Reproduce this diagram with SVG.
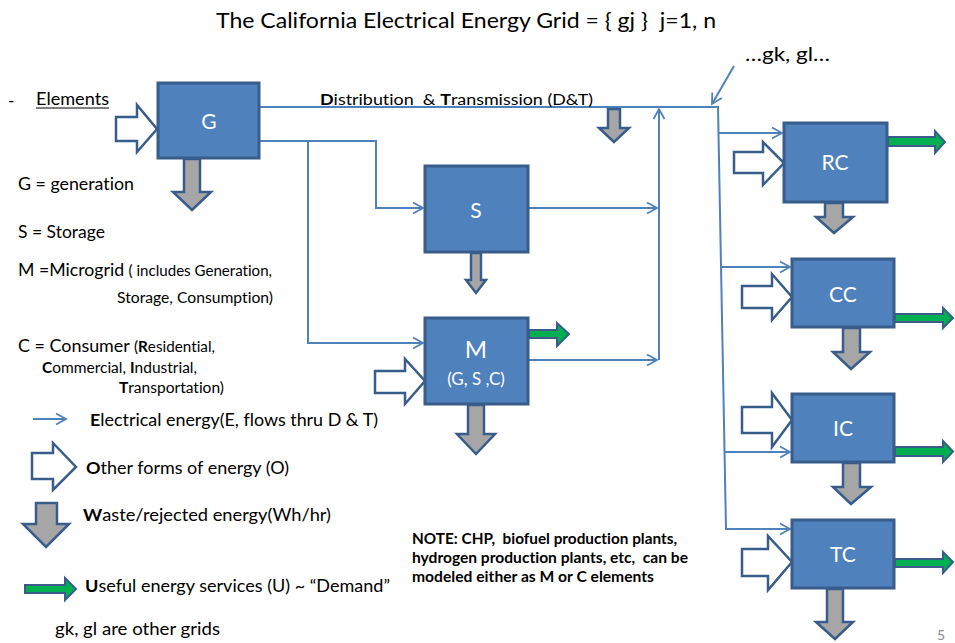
<svg xmlns="http://www.w3.org/2000/svg" width="955" height="643" viewBox="0 0 955 643">
<defs>
<style>
text{font-family:Lato,"Open Sans","Liberation Sans",sans-serif;fill:#000;white-space:pre;font-variant-ligatures:none}
.box{fill:#4f81bd;stroke:#385d8a;stroke-width:3}
.lbl{fill:#fff;text-anchor:middle;font-size:21px}
.oth{fill:#fff;stroke:#385d8a;stroke-width:2.5;stroke-linejoin:miter}
.wst{fill:#a6a6a6;stroke:#385d8a;stroke-width:2.5;stroke-linejoin:miter}
.grn{fill:#00b050;stroke:#385d8a;stroke-width:2;stroke-linejoin:miter}
.con{fill:none;stroke:#4f81bd;stroke-width:2}
.t17{font-size:17px}
.sm{font-size:14.5px}
.b{font-weight:bold}
.note{font-size:14.5px;font-weight:bold}
</style>
<marker id="ah" markerUnits="userSpaceOnUse" markerWidth="14" markerHeight="14" viewBox="0 0 14 14" refX="12" refY="7" orient="auto">
<path d="M2,1.5 L12,7 L2,12.5" fill="none" stroke="#4f81bd" stroke-width="1.8"/>
</marker>
</defs>
<rect width="955" height="643" fill="#fff"/>

<text x="466" y="28" text-anchor="middle" font-size="21" textLength="500" lengthAdjust="spacingAndGlyphs">The California Electrical Energy Grid = { gj }  j=1, n</text>

<g id="connectors">
<path class="con" d="M259,107 H718 L726,529 H790" marker-end="url(#ah)"/>
<path class="con" d="M719,133 H782" marker-end="url(#ah)"/>
<path class="con" d="M721,267 H790" marker-end="url(#ah)"/>
<path class="con" d="M724,452 H790" marker-end="url(#ah)"/>
<path class="con" d="M259,141 H376 V208 H423" marker-end="url(#ah)"/>
<path class="con" d="M308,141 V343 H423" marker-end="url(#ah)"/>
<path class="con" d="M528,208 H657" marker-end="url(#ah)"/>
<path class="con" d="M528,360 H657" marker-end="url(#ah)"/>
<path class="con" d="M659,360 V109" marker-end="url(#ah)"/>
<path class="con" d="M734,66 L712,104" marker-end="url(#ah)"/>
</g>

<g id="dt-label">
<text x="320" y="105" font-size="15.5" textLength="273" lengthAdjust="spacingAndGlyphs"><tspan class="b">D</tspan>istribution  &amp; <tspan class="b">T</tspan>ransmission (D&amp;T)</text>
<path class="wst" d="M608,109 H620 V128 H629 L614,142 L599,128 H608 Z"/>
</g>

<g id="other-grids">
<text x="745" y="61" font-size="20" textLength="85" lengthAdjust="spacingAndGlyphs">…gk, gl…</text>
</g>

<g id="node-G">
<path class="oth" d="M116,117 H137 V105 L157,129 L137,152 V141 H116 Z"/>
<rect class="box" x="158" y="83" width="101" height="75"/>
<text class="lbl" x="209" y="129">G</text>
<path class="wst" d="M184,159 H200 V192 H211 L192,210 L173,192 H184 Z"/>
</g>

<g id="node-S">
<rect class="box" x="425" y="166" width="103" height="86"/>
<text class="lbl" x="476" y="218">S</text>
<path class="wst" d="M471,253 H481 V280 H486 L476,293 L466,280 H471 Z"/>
</g>

<g id="node-M">
<path class="oth" d="M375,371 H405 V359 L425,381 L405,404 V393 H375 Z"/>
<rect class="box" x="425" y="318" width="103" height="86"/>
<text class="lbl" x="476" y="358" style="font-size:24px">M</text>
<text class="lbl" x="476" y="385" style="font-size:17px">(G, S ,C)</text>
<path class="grn" d="M529,330 H557 V323 L569,334 L557,346 V338 H529 Z"/>
<path class="wst" d="M468,405 H484 V434 H495 L476,454 L457,434 H468 Z"/>
</g>

<g id="node-RC">
<path class="oth" d="M734,152 H763 V142 L784,163 L763,185 V173 H734 Z"/>
<rect class="box" x="784" y="123" width="103" height="79"/>
<text class="lbl" x="835" y="170">RC</text>
<path class="grn" d="M888,137 H935 V131 L945,142 L935,153 V146 H888 Z"/>
<path class="wst" d="M825,203 H843 V217 H853 L834,233 L816,217 H825 Z"/>
</g>

<g id="node-CC">
<path class="oth" d="M742,286 H772 V274 L792,297 L772,320 V308 H742 Z"/>
<rect class="box" x="792" y="259" width="102" height="68"/>
<text class="lbl" x="843" y="302">CC</text>
<path class="grn" d="M895,314 H943 V308 L953,318 L943,328 V322 H895 Z"/>
<path class="wst" d="M843,328 H860 V352 H870 L851,369 L833,352 H843 Z"/>
</g>

<g id="node-IC">
<path class="oth" d="M742,407 H772 V393 L792,420 L772,447 V433 H742 Z"/>
<rect class="box" x="792" y="394" width="102" height="68"/>
<text class="lbl" x="843" y="436">IC</text>
<path class="grn" d="M895,447 H943 V441 L953,451.5 L943,462 V456 H895 Z"/>
<path class="wst" d="M843,463 H860 V487 H871 L851,504 L833,487 H843 Z"/>
</g>

<g id="node-TC">
<path class="oth" d="M742,549 H768 V536 L792,562 L768,590 V576 H742 Z"/>
<rect class="box" x="792" y="520" width="102" height="68"/>
<text class="lbl" x="843" y="562">TC</text>
<path class="grn" d="M895,559 H943 V552 L953,562 L943,573 V567 H895 Z"/>
<path class="wst" d="M827,589 H843 V622 H853 L835,639 L816,622 H827 Z"/>
</g>

<g id="legend">
<text x="8" y="107" class="t17">-</text>
<text x="36" y="105" class="t17" textLength="73" lengthAdjust="spacingAndGlyphs">Elements</text>
<line x1="36" y1="108" x2="109" y2="108" stroke="#000" stroke-width="1.2"/>
<text x="18" y="190" class="t17" textLength="116" lengthAdjust="spacingAndGlyphs">G = generation</text>
<text x="18" y="238" class="t17" textLength="87" lengthAdjust="spacingAndGlyphs">S = Storage</text>
<text x="18" y="276" class="t17" textLength="254" lengthAdjust="spacingAndGlyphs">M =Microgrid <tspan class="sm">( includes Generation,</tspan></text>
<text x="117" y="303" class="sm" textLength="156" lengthAdjust="spacingAndGlyphs">Storage, Consumption)</text>
<text x="18" y="352" class="t17" textLength="197" lengthAdjust="spacingAndGlyphs">C = Consumer <tspan class="sm">(<tspan class="b">R</tspan>esidential,</tspan></text>
<text x="42" y="373" class="sm" textLength="155" lengthAdjust="spacingAndGlyphs"><tspan class="b">C</tspan>ommercial, <tspan class="b">I</tspan>ndustrial,</text>
<text x="119" y="393" class="sm" textLength="105" lengthAdjust="spacingAndGlyphs"><tspan class="b">T</tspan>ransportation)</text>

<path class="con" d="M33,419 H66" marker-end="url(#ah)" stroke-width="1.6"/>
<text x="90" y="426" class="t17" textLength="288" lengthAdjust="spacingAndGlyphs"><tspan class="b">E</tspan>lectrical energy(E, flows thru D &amp; T)</text>

<path class="oth" d="M32,453 H53 V443 L76,467 L53,490 V479 H32 Z"/>
<text x="86" y="474" class="t17" textLength="203" lengthAdjust="spacingAndGlyphs"><tspan class="b">O</tspan>ther forms of energy (O)</text>

<path class="wst" d="M36,503 H57 V524 H69 L46,547 L23,524 H36 Z"/>
<text x="83" y="521" class="t17" textLength="248" lengthAdjust="spacingAndGlyphs"><tspan class="b">W</tspan>aste/rejected energy(Wh/hr)</text>

<path class="grn" d="M25,585 H65 V578 L76,589 L65,600 V593 H25 Z"/>
<text x="85" y="592" class="t17" textLength="305" lengthAdjust="spacingAndGlyphs"><tspan class="b">U</tspan>seful energy services (U) ~ “Demand”</text>

<text x="55" y="635" class="t17" textLength="165" lengthAdjust="spacingAndGlyphs">gk, gl are other grids</text>
</g>

<g id="note">
<text x="412" y="544" class="note" textLength="265" lengthAdjust="spacingAndGlyphs">NOTE: CHP,  biofuel production plants,</text>
<text x="412" y="563" class="note" textLength="276" lengthAdjust="spacingAndGlyphs">hydrogen production plants, etc,  can be</text>
<text x="412" y="582" class="note" textLength="242" lengthAdjust="spacingAndGlyphs">modeled either as M or C elements</text>
</g>

<text x="937" y="640" font-size="14" style="fill:#8c8c8c">5</text>
</svg>
